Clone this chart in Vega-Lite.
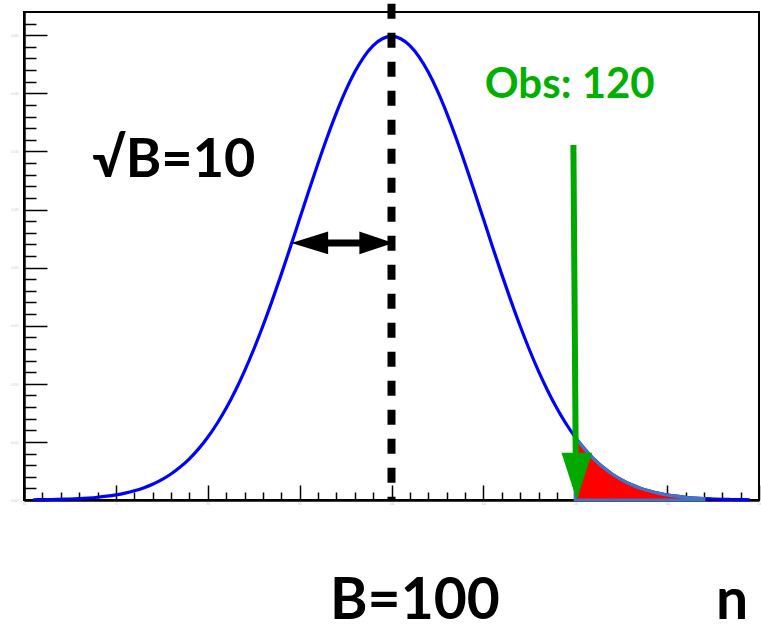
{
  "$schema": "https://vega.github.io/schema/vega-lite/v6.json",
  "width": 735,
  "height": 488,
  "autosize": "none",
  "padding": {"left": 24, "top": 12, "right": 2, "bottom": 124},
  "background": "white",
  "config": {
    "view": {"stroke": "black", "strokeWidth": 2},
    "axis": {"grid": false, "title": null},
    "text": {"font": "Lato", "fontWeight": "bold"}
  },
  "datasets": {
    "curve": [
      {"n": 61, "p": 0.0000199}, {"n": 62, "p": 0.0000292}, {"n": 63, "p": 0.0000425},
      {"n": 64, "p": 0.0000612}, {"n": 65, "p": 0.0000873}, {"n": 66, "p": 0.000123},
      {"n": 67, "p": 0.000172}, {"n": 68, "p": 0.000238}, {"n": 69, "p": 0.000327},
      {"n": 70, "p": 0.000443}, {"n": 71, "p": 0.000595}, {"n": 72, "p": 0.000792},
      {"n": 73, "p": 0.001042}, {"n": 74, "p": 0.001358}, {"n": 75, "p": 0.001753},
      {"n": 76, "p": 0.002239}, {"n": 77, "p": 0.002833}, {"n": 78, "p": 0.003547},
      {"n": 79, "p": 0.004398}, {"n": 80, "p": 0.005399}, {"n": 81, "p": 0.006562},
      {"n": 82, "p": 0.007895}, {"n": 83, "p": 0.009405}, {"n": 84, "p": 0.011092},
      {"n": 85, "p": 0.012952}, {"n": 86, "p": 0.014973}, {"n": 87, "p": 0.017137},
      {"n": 88, "p": 0.019419}, {"n": 89, "p": 0.021785}, {"n": 90, "p": 0.024197},
      {"n": 91, "p": 0.026608}, {"n": 92, "p": 0.028969}, {"n": 93, "p": 0.031225},
      {"n": 94, "p": 0.033322}, {"n": 95, "p": 0.035207}, {"n": 96, "p": 0.036827},
      {"n": 97, "p": 0.038139}, {"n": 98, "p": 0.039104}, {"n": 99, "p": 0.039695},
      {"n": 100, "p": 0.039894},
      {"n": 101, "p": 0.039695}, {"n": 102, "p": 0.039104}, {"n": 103, "p": 0.038139},
      {"n": 104, "p": 0.036827}, {"n": 105, "p": 0.035207}, {"n": 106, "p": 0.033322},
      {"n": 107, "p": 0.031225}, {"n": 108, "p": 0.028969}, {"n": 109, "p": 0.026608},
      {"n": 110, "p": 0.024197}, {"n": 111, "p": 0.021785}, {"n": 112, "p": 0.019419},
      {"n": 113, "p": 0.017137}, {"n": 114, "p": 0.014973}, {"n": 115, "p": 0.012952},
      {"n": 116, "p": 0.011092}, {"n": 117, "p": 0.009405}, {"n": 118, "p": 0.007895},
      {"n": 119, "p": 0.006562}, {"n": 120, "p": 0.005399}, {"n": 121, "p": 0.004398},
      {"n": 122, "p": 0.003547}, {"n": 123, "p": 0.002833}, {"n": 124, "p": 0.002239},
      {"n": 125, "p": 0.001753}, {"n": 126, "p": 0.001358}, {"n": 127, "p": 0.001042},
      {"n": 128, "p": 0.000792}, {"n": 129, "p": 0.000595}, {"n": 130, "p": 0.000443},
      {"n": 131, "p": 0.000327}, {"n": 132, "p": 0.000238}, {"n": 133, "p": 0.000172},
      {"n": 134, "p": 0.000123}, {"n": 135, "p": 0.0000873}, {"n": 136, "p": 0.0000612},
      {"n": 137, "p": 0.0000425}, {"n": 138, "p": 0.0000292}, {"n": 139, "p": 0.0000199}
    ]
  },
  "resolve": {"axis": {"x": "independent", "y": "independent"}},
  "layer": [
    {
      "description": "Gaussian curve with major axis ticks",
      "data": {"name": "curve"},
      "mark": {"type": "line", "color": "#0000ff", "strokeWidth": 3.2, "interpolate": "monotone"},
      "encoding": {
        "x": {
          "field": "n", "type": "quantitative",
          "scale": {"domain": [60, 140], "nice": false, "zero": false},
          "axis": {
            "orient": "bottom",
            "values": [60, 70, 80, 90, 100, 110, 120, 130, 140],
            "tickSize": -15, "tickWidth": 1.5, "tickColor": "black",
            "domainColor": "black", "domainWidth": 2.5,
            "labelFontSize": 3, "labelColor": "#c8c8c8", "labelPadding": 17,
            "labelFlush": false
          }
        },
        "y": {
          "field": "p", "type": "quantitative",
          "scale": {"domain": [0, 0.042], "nice": false, "zero": true},
          "axis": {
            "orient": "left",
            "values": [0, 0.005, 0.01, 0.015, 0.02, 0.025, 0.03, 0.035, 0.04],
            "tickSize": -23, "tickWidth": 1.5, "tickColor": "black",
            "domainColor": "black", "domainWidth": 2.5,
            "labelFontSize": 3, "labelColor": "#c8c8c8", "labelPadding": 29,
            "labelFlush": false
          }
        }
      }
    },
    {
      "description": "Upper tail above the observed count, with minor axis ticks",
      "data": {"name": "curve"},
      "transform": [{"filter": "datum.n >= 120 && datum.n <= 134"}],
      "mark": {"type": "area", "color": "#ff0000", "stroke": "#4472c4", "strokeWidth": 3.2, "interpolate": "monotone"},
      "encoding": {
        "x": {
          "field": "n", "type": "quantitative",
          "axis": {
            "orient": "bottom",
            "values": [62, 64, 66, 68, 72, 74, 76, 78, 82, 84, 86, 88, 92, 94, 96, 98, 102, 104, 106, 108, 112, 114, 116, 118, 122, 124, 126, 128, 132, 134, 136, 138],
            "tickSize": -8, "tickWidth": 1.5, "tickColor": "black",
            "domain": false, "labels": false
          }
        },
        "y": {
          "field": "p", "type": "quantitative",
          "axis": {
            "orient": "left",
            "values": [0.001, 0.002, 0.003, 0.004, 0.006, 0.007, 0.008, 0.009, 0.011, 0.012, 0.013, 0.014, 0.016, 0.017, 0.018, 0.019, 0.021, 0.022, 0.023, 0.024, 0.026, 0.027, 0.028, 0.029, 0.031, 0.032, 0.033, 0.034, 0.036, 0.037, 0.038, 0.039, 0.041],
            "tickSize": -12, "tickWidth": 1.5, "tickColor": "black",
            "domain": false, "labels": false
          }
        }
      }
    },
    {
      "description": "Expected background B = 100",
      "data": {"values": [{"n": 100, "top": 0.0427, "bottom": 0}]},
      "mark": {"type": "rule", "color": "black", "strokeWidth": 8, "strokeDash": [15, 14], "strokeCap": "butt"},
      "encoding": {
        "x": {"field": "n", "type": "quantitative", "axis": null},
        "y": {"field": "top", "type": "quantitative", "axis": null},
        "y2": {"field": "bottom"}
      }
    },
    {
      "description": "Width sqrt(B): shaft of the double arrow",
      "data": {"values": [{"from": 92.8, "to": 96.8, "p": 0.02212}]},
      "mark": {"type": "rule", "color": "black", "strokeWidth": 7},
      "encoding": {
        "x": {"field": "from", "type": "quantitative", "axis": null},
        "x2": {"field": "to"},
        "y": {"field": "p", "type": "quantitative", "axis": null}
      }
    },
    {
      "description": "Width sqrt(B): arrow heads",
      "data": {"values": [
        {"head": "left", "n": 89.1, "hi": 0.02212, "lo": 0.02212},
        {"head": "left", "n": 93.1, "hi": 0.02310, "lo": 0.02114},
        {"head": "right", "n": 96.5, "hi": 0.02310, "lo": 0.02114},
        {"head": "right", "n": 100.2, "hi": 0.02212, "lo": 0.02212}
      ]},
      "mark": {"type": "area", "color": "black", "interpolate": "linear"},
      "encoding": {
        "x": {"field": "n", "type": "quantitative", "axis": null},
        "y": {"field": "hi", "type": "quantitative", "axis": null},
        "y2": {"field": "lo"},
        "detail": {"field": "head"}
      }
    },
    {
      "description": "Observed count: arrow shaft",
      "data": {"values": [{"n1": 119.8, "p1": 0.03055, "n2": 120.05, "p2": 0.0039}]},
      "mark": {"type": "rule", "color": "#00a800", "strokeWidth": 6},
      "encoding": {
        "x": {"field": "n1", "type": "quantitative", "axis": null},
        "y": {"field": "p1", "type": "quantitative", "axis": null},
        "x2": {"field": "n2"},
        "y2": {"field": "p2"}
      }
    },
    {
      "description": "Observed count: arrow head",
      "data": {"values": [
        {"n": 118.5, "hi": 0.00407, "lo": 0.00407},
        {"n": 120.16, "hi": 0.00407, "lo": 0},
        {"n": 121.83, "hi": 0.00407, "lo": 0.00407}
      ]},
      "mark": {"type": "area", "color": "#00a800", "interpolate": "linear"},
      "encoding": {
        "x": {"field": "n", "type": "quantitative", "axis": null},
        "y": {"field": "hi", "type": "quantitative", "axis": null},
        "y2": {"field": "lo"}
      }
    },
    {
      "description": "Annotations",
      "data": {"values": [
        {"label": "√B=10", "n": 76.3, "p": 0.0278, "kind": "black", "size": "mid"},
        {"label": "Obs: 120", "n": 119.4, "p": 0.0346, "kind": "green", "size": "small"},
        {"label": "B=100", "n": 102.55, "p": -0.01024, "kind": "black", "size": "big"},
        {"label": "n", "n": 137.07, "p": -0.01024, "kind": "black", "size": "big"}
      ]},
      "mark": {"type": "text", "align": "center", "baseline": "alphabetic"},
      "encoding": {
        "x": {"field": "n", "type": "quantitative", "axis": null},
        "y": {"field": "p", "type": "quantitative", "axis": null},
        "text": {"field": "label"},
        "color": {"field": "kind", "type": "nominal", "scale": {"domain": ["black", "green"], "range": ["#000000", "#00b000"]}, "legend": null},
        "size": {"field": "size", "type": "nominal", "scale": {"type": "ordinal", "domain": ["big", "mid", "small"], "range": [57, 54, 42]}, "legend": null}
      }
    }
  ]
}
